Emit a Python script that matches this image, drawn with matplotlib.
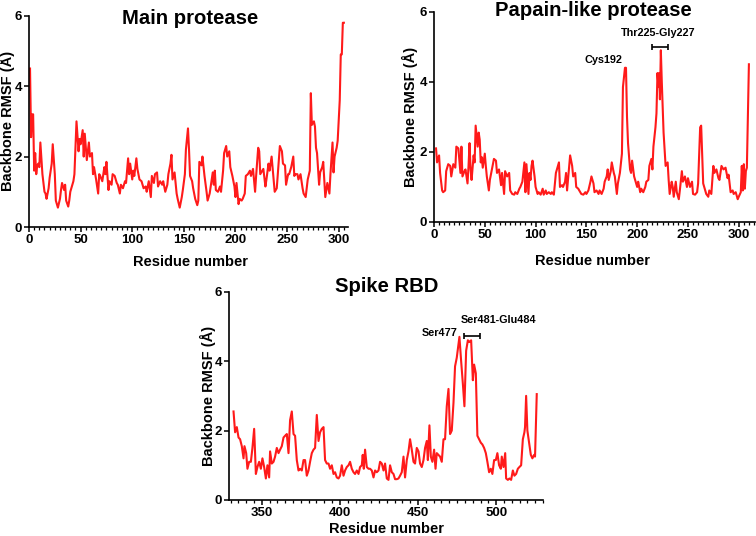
import matplotlib
matplotlib.use('Agg')
import matplotlib.pyplot as plt
from matplotlib.ticker import MultipleLocator

plt.rcParams['font.family'] = ['Liberation Sans', 'DejaVu Sans']
plt.rcParams['font.weight'] = 'bold'

# Main protease (residue, backbone RMSF in A)
mpro_res = [1, 2, 3, 4, 5, 6, 7, 8, 9, 10,
            11, 13, 15, 16, 17, 19, 20, 22, 23, 25,
            26, 28, 30, 31, 32, 34, 35, 36, 38, 39,
            40, 43, 44, 46, 48, 49, 50, 52, 53, 54,
            56, 58, 59, 61, 62, 63, 65, 67, 68, 69,
            71, 73, 74, 75, 77, 78, 80, 81, 83, 85,
            86, 88, 89, 91, 93, 94, 96, 97, 98, 100,
            101, 102, 104, 105, 107, 109, 111, 113, 114, 116,
            118, 119, 121, 122, 124, 125, 127, 129, 130, 132,
            134, 135, 137, 138, 139, 141, 143, 144, 146, 148,
            149, 151, 152, 154, 155, 156, 158, 159, 161, 163,
            164, 165, 167, 168, 170, 172, 173, 175, 176, 178,
            179, 180, 181, 183, 185, 186, 188, 189, 191, 192,
            194, 195, 197, 199, 200, 201, 203, 204, 206, 207,
            209, 210, 212, 214, 215, 217, 219, 220, 222, 223,
            224, 226, 227, 229, 230, 232, 233, 235, 237, 238,
            240, 241, 243, 245, 246, 248, 249, 251, 252, 254,
            256, 257, 258, 260, 261, 263, 265, 266, 268, 269,
            270, 272, 273, 274, 276, 277, 278, 279, 281, 282,
            284, 285, 287, 289, 291, 292, 294, 295, 296, 298,
            299, 301, 302, 303, 304, 305]
mpro_rmsf = [4.5, 2.55, 3.2, 3.2, 1.6, 2.1, 1.5, 1.75, 1.8, 1.7,
             2.4, 1.5, 1.0, 0.95, 0.8, 1.1, 1.4, 1.8, 2.35, 1.5,
             0.75, 0.55, 0.8, 1.05, 1.25, 1.05, 1.2, 0.75, 0.58, 0.75,
             1.0, 1.3, 1.5, 3.0, 2.15, 2.5, 2.35, 2.75, 2.0, 2.65,
             1.9, 2.4, 2.0, 2.1, 1.5, 1.7, 1.35, 0.95, 1.5, 1.45,
             1.3, 1.7, 1.5, 1.85, 1.05, 1.3, 1.2, 1.5, 1.45, 1.25,
             1.2, 0.95, 1.2, 1.1, 1.3, 1.25, 1.95, 1.5, 1.8, 1.35,
             1.6, 1.45, 1.95, 1.65, 1.35, 1.3, 1.1, 1.15, 1.0, 1.3,
             0.85, 1.45, 1.25, 1.5, 1.55, 1.15, 1.3, 1.2, 1.3, 1.0,
             1.2, 1.5, 1.8, 2.05, 1.35, 1.55, 0.95, 0.8, 0.55, 0.85,
             1.05, 1.5, 2.2, 2.8, 2.2, 1.45, 1.3, 1.1, 0.8, 0.62,
             0.75, 1.85, 1.75, 2.0, 1.45, 1.0, 0.75, 0.95, 1.15, 1.55,
             1.2, 1.6, 1.05, 1.0, 1.15, 1.0, 1.6, 2.1, 2.3, 2.0,
             2.15, 1.7, 1.45, 1.15, 0.85, 1.25, 0.65, 0.8, 0.75, 0.8,
             0.95, 1.45, 1.5, 1.6, 1.45, 1.65, 1.0, 1.45, 2.25, 2.15,
             1.5, 1.6, 1.65, 1.15, 1.35, 1.8, 1.6, 2.0, 1.35, 1.0,
             1.1, 1.5, 2.3, 2.15, 1.8, 1.75, 1.2, 1.5, 1.5, 1.7,
             2.0, 1.45, 1.5, 1.5, 1.35, 1.5, 1.1, 0.95, 0.85, 1.1,
             1.35, 1.6, 3.8, 2.9, 3.0, 2.85, 2.25, 2.1, 1.2, 1.55,
             1.7, 1.85, 0.85, 1.25, 0.95, 1.5, 2.4, 1.55, 2.0, 2.25,
             2.45, 3.6, 4.9, 4.9, 5.8, 5.8]

# Papain-like protease
plpro_res = [2, 3, 5, 6, 7, 8, 9, 11, 12, 14,
             16, 17, 19, 21, 22, 24, 26, 27, 28, 30,
             31, 33, 34, 35, 36, 37, 39, 40, 41, 43,
             44, 45, 46, 47, 48, 50, 51, 52, 54, 55,
             57, 59, 61, 62, 64, 66, 67, 69, 70, 72,
             74, 75, 77, 79, 80, 82, 84, 85, 87, 89,
             90, 91, 93, 94, 95, 96, 97, 99, 100, 102,
             103, 105, 107, 108, 110, 111, 113, 115, 116, 118,
             120, 121, 123, 124, 126, 127, 129, 130, 131, 133,
             134, 136, 137, 139, 140, 142, 144, 145, 147, 149,
             150, 152, 154, 155, 157, 158, 160, 162, 163, 165,
             167, 168, 170, 171, 172, 174, 175, 177, 178, 180,
             181, 183, 185, 186, 188, 189, 190, 191, 193, 194,
             195, 197, 198, 200, 201, 203, 204, 206, 208, 209,
             211, 212, 214, 215, 216, 218, 219, 220, 221, 221.7,
             222.4, 223.3, 224.3, 226, 227, 228, 230, 231, 232, 234,
             235, 236, 238, 239, 241, 242, 244, 245, 247, 249,
             250, 252, 254, 255, 257, 259, 260, 262, 263, 265,
             266, 268, 270, 271, 273, 275, 276, 278, 280, 281,
             283, 285, 287, 289, 290, 292, 294, 295, 297, 299,
             300, 302, 303, 304, 305, 306, 307, 308, 310]
plpro_rmsf = [2.1, 1.7, 1.9, 1.4, 1.15, 0.9, 0.85, 0.9, 1.45, 1.65,
              1.6, 1.3, 1.65, 1.55, 2.15, 2.1, 1.4, 2.15, 1.3, 1.45,
              1.5, 1.1, 1.6, 2.25, 1.5, 1.2, 1.9, 1.7, 2.75, 2.15,
              2.55, 2.35, 1.7, 1.85, 1.55, 1.95, 1.6, 1.3, 0.9, 1.2,
              1.5, 1.8, 1.75, 1.4, 1.5, 1.05, 1.4, 0.8, 1.45, 1.3,
              1.4, 0.9, 0.8, 0.78, 0.85, 0.8, 0.95, 1.0, 1.15, 1.7,
              0.85, 1.65, 0.8, 1.4, 1.2, 1.6, 1.75, 1.3, 1.0, 0.8,
              0.85, 0.78, 0.95, 0.78, 0.9, 0.8, 0.85, 0.8, 0.85, 0.78,
              1.4, 1.5, 1.7, 1.0, 1.05, 1.0, 1.15, 1.4, 0.9, 1.55,
              1.9, 1.6, 1.3, 1.4, 1.0, 0.95, 0.85, 0.8, 0.78, 0.85,
              0.8, 0.9, 1.15, 1.3, 1.1, 0.85, 0.9, 0.8, 0.9, 0.8,
              0.95, 1.15, 1.3, 1.5, 1.2, 1.45, 1.7, 1.4, 1.3, 0.8,
              1.1, 1.4, 1.95, 3.85, 4.4, 4.4, 3.0, 2.25, 1.5, 1.4,
              1.75, 1.3, 1.2, 1.0, 1.15, 0.85, 0.95, 0.85, 1.0, 1.15,
              1.2, 1.6, 1.8, 1.5, 2.15, 2.7, 3.1, 4.25, 3.85, 4.25,
              3.5, 4.9, 3.95, 2.55, 2.05, 1.6, 1.7, 1.2, 0.8, 1.15,
              1.0, 0.72, 1.15, 0.85, 0.65, 0.9, 1.45, 1.15, 1.3, 1.0,
              1.25, 1.0, 1.15, 0.8, 0.78, 0.85, 1.1, 2.7, 2.75, 1.1,
              1.0, 0.8, 0.72, 0.9, 0.8, 1.6, 1.4, 1.5, 1.25, 1.2,
              1.6, 1.5, 1.55, 1.25, 1.35, 0.85, 0.9, 0.8, 0.85, 0.65,
              0.72, 0.85, 1.6, 0.9, 1.65, 0.95, 1.45, 1.55, 4.5]

# Spike RBD
rbd_res = [331.9, 332.9, 334.0, 335.1, 336.1, 337.2, 338.3, 338.9, 340.0, 340.8,
           341.9, 343.0, 344.0, 345.1, 346.2, 347.2, 348.3, 349.4, 350.4, 351.5,
           352.6, 353.6, 354.7, 355.3, 356.4, 357.5, 358.5, 359.6, 360.7, 361.7,
           362.8, 363.9, 364.9, 366.0, 367.1, 368.1, 369.2, 370.3, 371.3, 372.4,
           373.5, 374.5, 375.6, 376.7, 377.7, 378.8, 379.9, 380.9, 382.0, 383.1,
           384.1, 385.2, 386.3, 387.3, 388.4, 389.5, 390.5, 391.6, 392.7, 393.7,
           394.8, 395.9, 396.9, 398.0, 399.1, 400.1, 401.2, 402.3, 403.3, 404.4,
           405.5, 406.5, 407.6, 408.7, 409.7, 410.8, 411.9, 412.9, 414.0, 414.6,
           415.3, 416.1, 417.2, 418.3, 419.3, 420.4, 421.5, 422.5, 423.6, 424.7,
           425.7, 426.8, 427.9, 428.9, 430.0, 431.1, 432.1, 433.2, 434.3, 435.3,
           436.4, 437.5, 438.5, 439.6, 440.7, 441.7, 442.8, 443.9, 444.9, 446.0,
           447.1, 448.1, 449.2, 450.3, 451.3, 452.4, 453.5, 454.5, 455.6, 456.3,
           457.3, 458.2, 459.2, 460.3, 461.2, 462.0, 463.1, 464.1, 465.2, 466.3,
           467.3, 468.4, 469.5, 470.5, 471.6, 472.7, 473.7, 474.8, 476.5, 477.6,
           478.7, 479.7, 480.8, 481.9, 482.9, 484.0, 485.1, 485.9, 487.0, 488.0,
           489.1, 490.2, 491.2, 492.3, 493.4, 494.4, 495.5, 496.6, 497.6, 498.7,
           499.8, 500.8, 501.9, 503.0, 503.6, 504.7, 505.8, 506.4, 507.5, 508.5,
           509.6, 510.7, 511.7, 512.8, 513.9, 514.9, 516.0, 517.1, 518.1, 518.5,
           519.2, 520.0, 521.1, 522.2, 523.2, 524.3, 524.9, 526.0]
rbd_rmsf = [2.55, 1.95, 2.1, 1.8, 1.75, 1.55, 1.2, 1.55, 1.35, 0.9,
            1.1, 1.1, 1.5, 2.05, 0.75, 0.95, 1.1, 0.9, 1.2, 0.95,
            0.62, 1.0, 0.65, 1.4, 1.05, 1.1, 1.25, 1.5, 1.35, 1.45,
            1.55, 1.8, 1.85, 1.9, 1.35, 2.3, 2.55, 1.9, 1.85, 1.15,
            0.85, 0.9, 0.85, 1.15, 1.15, 0.7, 0.85, 1.1, 1.35, 1.45,
            1.5, 2.45, 1.7, 1.95, 2.05, 2.1, 1.15, 1.05, 1.05, 0.9,
            1.0, 0.75, 0.8, 0.65, 0.62, 0.7, 1.0, 0.7, 0.85, 0.95,
            1.0, 1.1, 0.9, 0.8, 0.75, 0.85, 0.75, 0.95, 1.0, 1.3,
            0.9, 1.45, 0.95, 0.9, 0.9, 0.85, 0.65, 0.85, 0.8, 0.85,
            1.1, 1.05, 0.85, 1.05, 0.62, 0.58, 1.0, 0.8, 0.75, 0.6,
            0.6, 0.62, 0.7, 0.8, 1.25, 0.65, 1.15, 1.4, 1.75, 1.45,
            1.1, 1.05, 1.5, 1.4, 1.05, 0.95, 1.15, 1.5, 1.7, 1.15,
            2.15, 1.25, 1.1, 1.45, 0.9, 1.35, 1.3, 1.25, 1.1, 1.75,
            1.75, 2.7, 3.2, 1.9, 2.0, 2.8, 3.85, 4.1, 4.7, 4.0,
            3.35, 2.7, 4.3, 4.6, 4.55, 4.6, 3.45, 3.9, 3.65, 1.85,
            1.75, 1.65, 1.6, 1.5, 1.35, 1.1, 0.8, 0.9, 0.75, 1.15,
            1.15, 1.35, 1.0, 0.9, 1.25, 0.95, 1.35, 0.62, 0.58, 0.62,
            0.58, 0.85, 0.7, 0.75, 0.9, 0.95, 1.0, 1.75, 1.95, 2.1,
            3.0, 2.0, 1.65, 1.3, 1.2, 1.3, 1.25, 3.05]

W, H = 756, 536


def make_axes(fig, left, right, y0, y6):
    # pixel box -> figure fraction
    return fig.add_axes([left / W, 1 - y0 / H, (right - left) / W, (y0 - y6) / H])


def style(ax, xlim, xmaj, title, tpos, ylab_x, xlab_y):
    ax.set_xlim(*xlim)
    ax.set_ylim(0, 6)
    ax.set_yticks([0, 2, 4, 6])
    ax.xaxis.set_major_locator(MultipleLocator(xmaj))
    ax.xaxis.set_minor_locator(MultipleLocator(5))
    for s in ['top', 'right']:
        ax.spines[s].set_visible(False)
    for s in ['left', 'bottom']:
        ax.spines[s].set_linewidth(1.2)
    ax.tick_params(which='major', length=3.5, width=1.1, labelsize=9.5, pad=1.5)
    ax.tick_params(which='minor', length=2, width=0.9)
    ax.tick_params(axis='y', which='minor', left=False)
    for lab in ax.get_xticklabels() + ax.get_yticklabels():
        lab.set_fontweight('bold')
    ax.set_ylabel('Backbone RMSF (Å)', fontsize=10.5, fontweight='bold')
    ax.yaxis.set_label_coords(ylab_x, 0.5)
    ax.set_xlabel('Residue number', fontsize=10.5, fontweight='bold')
    ax.xaxis.set_label_coords(tpos[0], xlab_y)
    ax.text(tpos[0], tpos[1], title, transform=ax.transAxes, ha='center', va='center',
            fontsize=14.6, fontweight='bold')


def bracket(ax, x0, x1, y):
    ax.errorbar([(x0 + x1) / 2], [y], xerr=[(x1 - x0) / 2], fmt='none', ecolor='black',
                elinewidth=1.2, capsize=2.5, capthick=1.2)


fig = plt.figure(figsize=(W / 100, H / 100), dpi=100)

ax1 = make_axes(fig, 29, 348, 227, 15.7)
ax1.plot(mpro_res, mpro_rmsf, color='#ff1a1a', lw=1.5)
style(ax1, (0, 309), 50, 'Main protease', (0.505, 0.985), -0.044, -0.1325)

ax2 = make_axes(fig, 434, 755, 222, 11.7)
ax2.plot(plpro_res, plpro_rmsf, color='#ff1a1a', lw=1.5)
style(ax2, (0, 316), 50, 'Papain-like protease', (0.495, 1.008), -0.05, -0.152)
ax2.text(167, 4.62, 'Cys192', ha='center', va='center', fontsize=7.8, fontweight='bold')
ax2.text(221, 5.38, 'Thr225-Gly227', ha='center', va='center', fontsize=7.8, fontweight='bold')
bracket(ax2, 215, 230.5, 4.99)

ax3 = make_axes(fig, 229, 543, 500, 291.7)
ax3.plot(rbd_res, rbd_rmsf, color='#ff1a1a', lw=1.5)
style(ax3, (329, 530), 50, 'Spike RBD', (0.503, 1.023), -0.041, -0.105)
ax3.text(464, 4.8, 'Ser477', ha='center', va='center', fontsize=7.8, fontweight='bold')
ax3.text(501.5, 5.18, 'Ser481-Glu484', ha='center', va='center', fontsize=7.8, fontweight='bold')
bracket(ax3, 479.7, 489.4, 4.72)

fig.savefig('out.png', dpi=100)
